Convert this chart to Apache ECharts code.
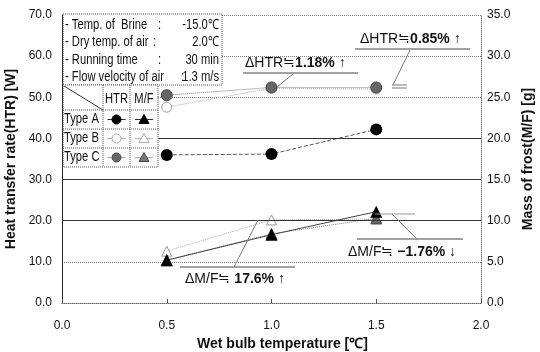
<!DOCTYPE html>
<html>
<head>
<meta charset="utf-8">
<script src="https://cdn.jsdelivr.net/npm/echarts@6/dist/echarts.min.js"></script>
<style>
html, body { margin: 0; padding: 0; background: #fff; }
#chart { width: 540px; height: 352px; }
</style>
</head>
<body>
<div id="chart"></div>
<script>
// wet bulb temperature (x)
var temps = [0.5, 1.0, 1.5];
// heat transfer rate [W] (left axis)
var htrA = [36.0, 36.2, 42.2];
var htrB = [47.6, 52.2, 52.0];
var htrC = [50.5, 52.4, 52.4];
// mass of frost [g] (right axis)
var mfA = [5.2, 8.3, 11.1];
var mfB = [6.3, 10.1, 10.2];
var mfC = [5.2, 8.4, 10.3];
// darker reference lines on the left axis
var darkLines = [20, 30, 40];

var SANS = "'Liberation Sans',Arial,sans-serif";
var SQ = 0.8; // 压窄文字

function pts(ys) {
    return temps.map(function (t, i) { return [t, ys[i]]; });
}

var myChart = echarts.init(document.getElementById('chart'));

// 信息框 + 图例表格
var infoRows = [
    ['- Temp. of  Brine', ':', '-15.0\u2103'],
    ['- Dry temp. of air', ':', '2.0\u2103'],
    ['- Running time', ':', '30 min'],
    ['- Flow velocity of air', ':', '1.3 m/s']
];
var infoY = [25, 42, 60, 77];
var colonX = [158, 153, 158, 181];

var g = [];
function txt(x, y, s, align, size) {
    g.push({ type: 'text', x: x, y: y, z: 101, scaleX: SQ,
        style: { text: s, font: (size || 14) + 'px ' + SANS, fill: '#111',
            align: align || 'left', verticalAlign: 'middle' } });
}
g.push({ type: 'rect', shape: { x: 63, y: 14, width: 159, height: 71 },
    style: { fill: '#fff', stroke: '#555', lineWidth: 1, lineDash: [1, 1] }, z: 100 });
infoRows.forEach(function (r, i) {
    txt(65, infoY[i], r[0]);
    txt(colonX[i], infoY[i], r[1]);
    txt(219, infoY[i], r[2], 'right');
});

// table
var tTop = 85, hdrB = 110, rowH = 19, colA = 103, colB = 130, tRight = 158;
g.push({ type: 'rect', shape: { x: 63, y: tTop, width: tRight - 63, height: hdrB + 3 * rowH - tTop },
    style: { fill: '#fff', stroke: '#555', lineWidth: 1, lineDash: [1, 1] }, z: 100 });
[hdrB, hdrB + rowH, hdrB + 2 * rowH].forEach(function (y) {
    g.push({ type: 'line', shape: { x1: 63, y1: y, x2: tRight, y2: y }, z: 101,
        style: { stroke: '#555', lineWidth: 1, lineDash: [1, 1] } });
});
[colA, colB].forEach(function (x) {
    g.push({ type: 'line', shape: { x1: x, y1: tTop, x2: x, y2: hdrB + 3 * rowH }, z: 101,
        style: { stroke: '#555', lineWidth: 1, lineDash: [1, 1] } });
});
g.push({ type: 'line', shape: { x1: 64, y1: tTop + 1, x2: colA, y2: hdrB }, z: 101,
    style: { stroke: '#333', lineWidth: 1 } });
txt((colA + colB) / 2, 99, 'HTR', 'center');
txt((colB + tRight) / 2, 99, 'M/F', 'center');

var typeNames = ['Type A', 'Type B', 'Type C'];
var circStyle = [
    { fill: '#000', stroke: '#000' },
    { fill: '#fff', stroke: '#aaa' },
    { fill: '#666', stroke: '#444' }
];
var triStyle = [
    { fill: '#000', stroke: '#000' },
    { fill: '#fff', stroke: '#aaa' },
    { fill: '#777', stroke: '#444' }
];
typeNames.forEach(function (n, i) {
    var cy = hdrB + rowH * i + rowH / 2;
    var cx1 = (colA + colB) / 2, cx2 = (colB + tRight) / 2;
    txt(64, cy, n);
    g.push({ type: 'line', shape: { x1: cx1 - 9, y1: cy, x2: cx1 + 9, y2: cy }, z: 101,
        style: { stroke: i == 0 ? '#333' : '#aaa', lineWidth: 1 } });
    g.push({ type: 'circle', shape: { cx: cx1, cy: cy, r: 4.5 }, z: 102,
        style: { fill: circStyle[i].fill, stroke: circStyle[i].stroke, lineWidth: 1 } });
    g.push({ type: 'line', shape: { x1: cx2 - 9, y1: cy, x2: cx2 + 9, y2: cy }, z: 101,
        style: { stroke: i == 0 ? '#333' : '#aaa', lineWidth: 1 } });
    g.push({ type: 'polygon', shape: { points: [[cx2, cy - 5], [cx2 - 5, cy + 4], [cx2 + 5, cy + 4]] }, z: 102,
        style: { fill: triStyle[i].fill, stroke: triStyle[i].stroke, lineWidth: 1 } });
});

// 注释
function note(x, y, pre, num, post) {
    g.push({ type: 'text', x: x, y: y, z: 101,
        style: {
            text: '{a|' + pre + '}{b|' + num + '}{a|' + post + '}',
            verticalAlign: 'middle',
            rich: {
                a: { font: '14px ' + SANS, fill: '#111' },
                b: { font: 'bold 14px ' + SANS, fill: '#111' }
            }
        } });
}
function seg(x1, y1, x2, y2, c) {
    g.push({ type: 'line', shape: { x1: x1, y1: y1, x2: x2, y2: y2 }, z: 101,
        style: { stroke: c || '#444', lineWidth: 1 } });
}
note(245, 63, '\u0394HTR\u2252', '1.18%', ' \u2191');
seg(243, 73, 358, 73);
seg(293, 74, 277, 87, '#777');
note(360, 39, '\u0394HTR\u2252', '0.85%', ' \u2191');
seg(355, 49, 470, 49);
seg(410, 50, 393, 85, '#777');
seg(392, 85, 407, 85, '#777');
seg(392, 88, 407, 88, '#777');
note(185, 279, '\u0394M/F\u2252 ', '17.6%', ' \u2191');
seg(180, 267, 295, 267);
seg(234, 267, 258, 220, '#777');
note(348, 252, '\u0394M/F\u2252 ', '\u22121.76%', ' \u2193');
seg(357, 239, 463, 239);
seg(417, 239, 392, 214, '#777');
seg(375, 214, 415, 214, '#999');

var option = {
    animation: false,
    grid: { left: 62, right: 59, top: 15, bottom: 49, outerBoundsMode: 'none' },
    xAxis: {
        type: 'value',
        min: 0, max: 2, interval: 0.5,
        name: 'Wet bulb temperature [\u2103]',
        nameLocation: 'middle',
        nameGap: 33,
        nameTextStyle: { fontFamily: SANS, fontWeight: 'bold', fontSize: 14, color: '#111', padding: [0, 0, 0, 22] },
        axisLine: { lineStyle: { color: '#666', type: 'dotted' } },
        axisTick: { inside: true, length: 4, lineStyle: { color: '#555' } },
        axisLabel: { fontFamily: SANS, fontSize: 12, color: '#111', margin: 17,
            formatter: function (v) { return v.toFixed(1); } },
        splitLine: { show: false }
    },
    yAxis: [{
        type: 'value',
        min: 0, max: 70, interval: 10,
        name: 'Heat transfer rate(HTR) [W]',
        nameLocation: 'middle',
        nameGap: 41,
        nameTextStyle: { fontFamily: SANS, fontWeight: 'bold', fontSize: 14, color: '#111' },
        axisLine: { show: true, lineStyle: { color: '#222' } },
        axisTick: { show: false },
        axisLabel: { fontFamily: SANS, fontSize: 12, color: '#111', margin: 10,
            formatter: function (v) { return v.toFixed(1); } },
        splitLine: { lineStyle: { color: '#777', type: 'dotted' } }
    }, {
        type: 'value',
        min: 0, max: 35, interval: 5,
        name: 'Mass of frost(M/F) [g]',
        nameLocation: 'middle',
        nameGap: 40,
        nameRotate: 90,
        nameTextStyle: { fontFamily: SANS, fontWeight: 'bold', fontSize: 14, color: '#111' },
        axisLine: { show: true, lineStyle: { color: '#777', type: 'dotted' } },
        axisTick: { show: false },
        axisLabel: { fontFamily: SANS, fontSize: 12, color: '#111', margin: 6,
            formatter: function (v) { return v.toFixed(1); } },
        splitLine: { show: false }
    }],
    graphic: g,
    series: [
        {
            name: 'HTR Type B', type: 'line', yAxisIndex: 0, data: pts(htrB),
            symbol: 'circle', symbolSize: 10,
            lineStyle: { color: '#aaa', width: 1, type: 'dotted' },
            itemStyle: { color: '#fff', borderColor: '#999', borderWidth: 1 }
        },
        {
            name: 'HTR Type C', type: 'line', yAxisIndex: 0, data: pts(htrC),
            symbol: 'circle', symbolSize: 11,
            lineStyle: { color: '#777', width: 1, type: 'dotted' },
            itemStyle: { color: '#666', borderColor: '#444', borderWidth: 1 }
        },
        {
            name: 'HTR Type A', type: 'line', yAxisIndex: 0, data: pts(htrA),
            symbol: 'circle', symbolSize: 12,
            lineStyle: { color: '#555', width: 1, type: 'dashed' },
            itemStyle: { color: '#000' },
            markLine: {
                silent: true, symbol: 'none', label: { show: false },
                lineStyle: { color: '#333', width: 1, type: 'solid' },
                data: darkLines.map(function (v) { return { yAxis: v }; })
            }
        },
        {
            name: 'M/F Type B', type: 'line', yAxisIndex: 1, data: pts(mfB),
            symbol: 'triangle', symbolSize: 10,
            lineStyle: { color: '#aaa', width: 1, type: 'dotted' },
            itemStyle: { color: '#fff', borderColor: '#999', borderWidth: 1 }
        },
        {
            name: 'M/F Type C', type: 'line', yAxisIndex: 1, data: pts(mfC),
            symbol: 'triangle', symbolSize: 11,
            lineStyle: { color: '#777', width: 1, type: 'dotted' },
            itemStyle: { color: '#666', borderColor: '#444', borderWidth: 1 }
        },
        {
            name: 'M/F Type A', type: 'line', yAxisIndex: 1, data: pts(mfA),
            symbol: 'triangle', symbolSize: 12,
            lineStyle: { color: '#444', width: 1 },
            itemStyle: { color: '#000' }
        }
    ]
};

myChart.setOption(option);
window.onresize = myChart.resize;
</script>
</body>
</html>
